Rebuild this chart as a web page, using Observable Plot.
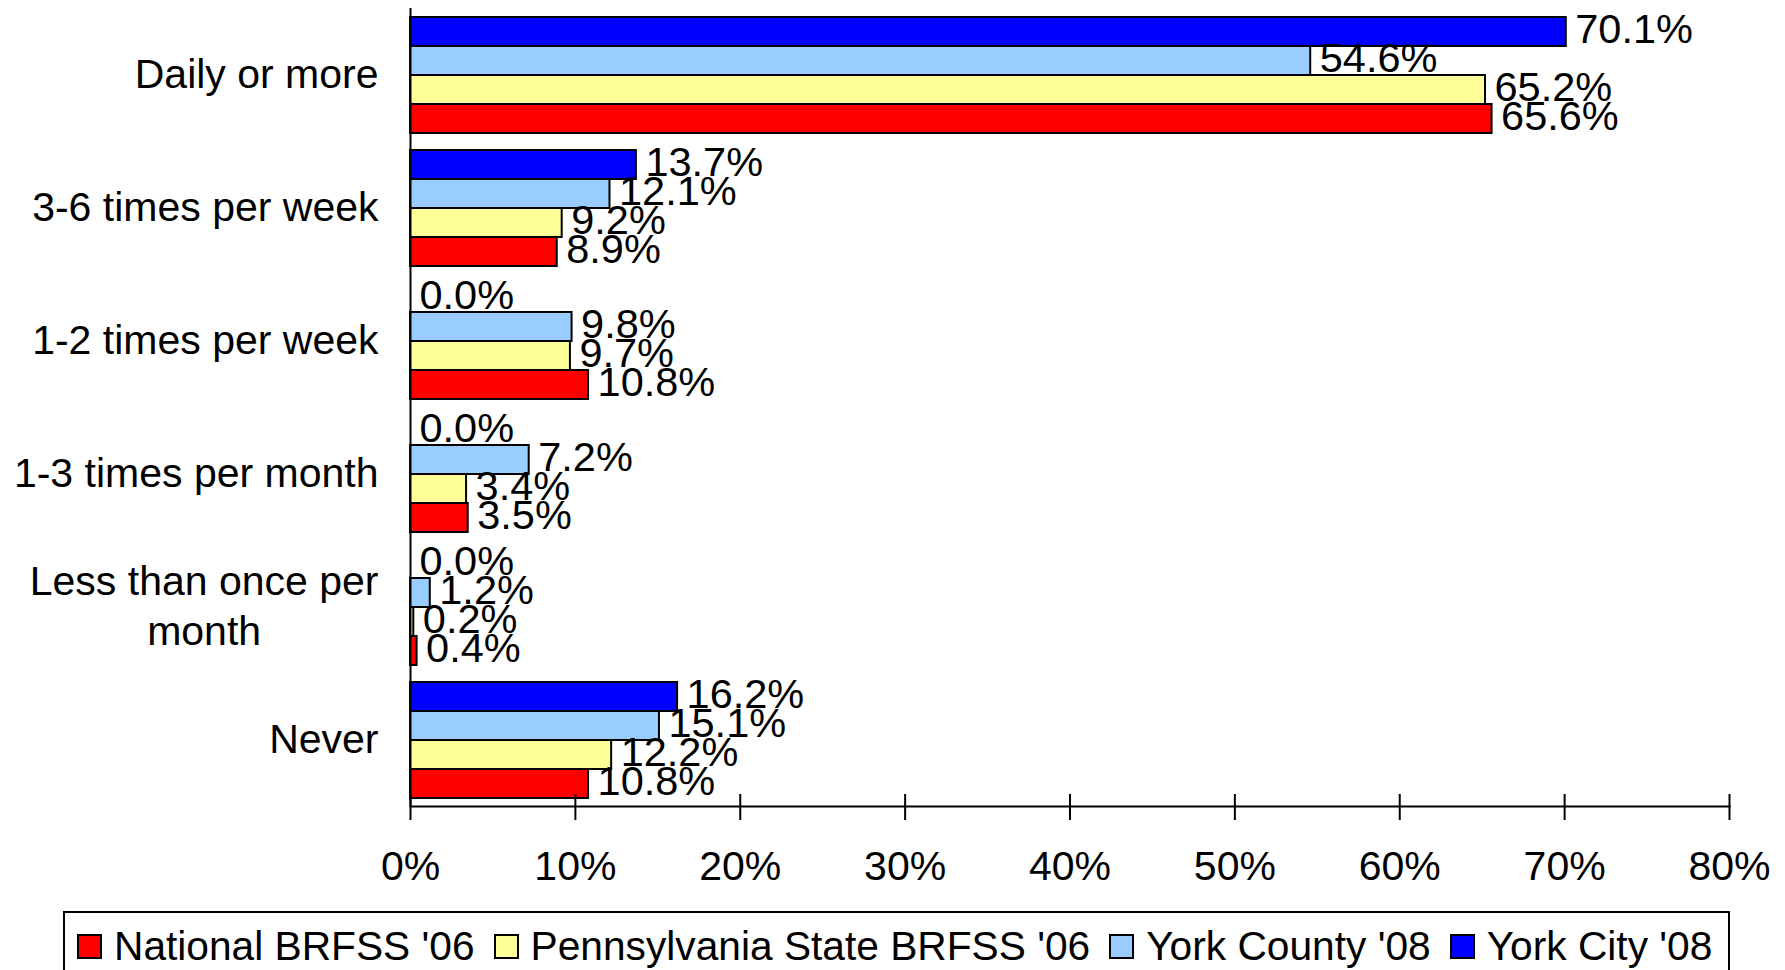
<!DOCTYPE html>
<html><head><meta charset="utf-8">
<script src="https://cdn.jsdelivr.net/npm/d3@7"></script>
<script src="https://cdn.jsdelivr.net/npm/@observablehq/plot@0.6"></script>
<style>
body{margin:0;background:#fff;font-family:"Liberation Sans",Arial,sans-serif;overflow:hidden;}
#chart svg{display:block;}
#legend{box-sizing:border-box;width:1667px;height:70px;margin:6px 0 0 63px;border:2px solid #000;display:flex;align-items:center;padding:0 0 0 12px;font-size:40.7px;color:#000;white-space:nowrap;}
.item{display:flex;align-items:center;margin-right:19px;}
.sw{box-sizing:border-box;width:25px;height:25px;border:2px solid #000;margin-right:12px;}
</style></head><body><div id="chart"></div><div id="legend"></div>
<script>
const categories = ["Daily or more", "3-6 times per week", "1-2 times per week", "1-3 times per month", "Less than once per month", "Never"];
const seriesNames = ["National BRFSS '06", "Pennsylvania State BRFSS '06", "York County '08", "York City '08"];
const seriesColors = ["#FF0000", "#FFFF99", "#99CCFF", "#0000FF"];
const national     = [65.6, 8.9, 10.8, 3.5, 0.4, 10.8];
const pennsylvania = [65.2, 9.2, 9.7, 3.4, 0.2, 12.2];
const yorkCounty   = [54.6, 12.1, 9.8, 7.2, 1.2, 15.1];
const yorkCity     = [70.1, 13.7, 0.0, 0.0, 0.0, 16.2];
const xTicks = [0, 10, 20, 30, 40, 50, 60, 70, 80];

const seriesValues = [national, pennsylvania, yorkCounty, yorkCity];
const data = categories.flatMap((c, i) => seriesNames.map((s, j) => ({category: c, series: s, value: seriesValues[j][i]})));

const font = '"Liberation Sans", Arial, sans-serif';
const chart = Plot.plot({
  width: 1785,
  height: 905,
  marginLeft: 410,
  marginRight: 56,
  marginTop: 8,
  marginBottom: 99,
  style: {fontFamily: font, background: "#fff", color: "#000"},
  x: {domain: [0, 80], ticks: xTicks, label: null},
  y: {domain: seriesNames.slice().reverse(), paddingInner: 0, paddingOuter: 0.235, axis: null},
  fy: {domain: categories, padding: 0, label: null},
  color: {domain: seriesNames, range: seriesColors},
  marks: [
    Plot.barX(data, {x: "value", y: "series", fy: "category", fill: "series", stroke: "#000", strokeWidth: 2}),
    Plot.text(data, {x: "value", y: "series", fy: "category", text: d => d.value.toFixed(1) + "%", textAnchor: "start", dx: 9, dy: -2, fontSize: 41.5, fill: "#000"}),
    Plot.ruleX([0], {stroke: "#000", strokeWidth: 2}),
    Plot.frame({anchor: "bottom", facetAnchor: "bottom", stroke: "#000", strokeWidth: 2}),
    Plot.axisX({ticks: xTicks, tickSize: 26, dy: -12, strokeWidth: 2, tickFormat: () => "", label: null}),
    Plot.axisX({ticks: xTicks, tickSize: 0, tickPadding: 44, fontSize: 41, tickFormat: d => d + "%", label: null}),
    Plot.axisFy({anchor: "left", tickSize: 0, tickPadding: 32, dy: -3, fontSize: 41, lineHeight: 1.22, label: null,
      tickFormat: d => d === "Less than once per month" ? "Less than once per\nmonth" : d})
  ]
});
document.getElementById("chart").append(chart);
chart.querySelectorAll('[aria-label="fy-axis tick label"] text').forEach(t => {
  if (t.querySelectorAll("tspan").length > 1) {
    const w = t.getBBox().width;
    t.setAttribute("text-anchor", "middle");
    t.setAttribute("transform", (t.getAttribute("transform") || "") + ` translate(${-w / 2},0)`);
  }
});

const legend = document.getElementById("legend");
seriesNames.forEach((s, j) => {
  const item = document.createElement("div");
  item.className = "item";
  const sw = document.createElement("div");
  sw.className = "sw";
  sw.style.background = seriesColors[j];
  const label = document.createElement("span");
  label.textContent = s;
  item.append(sw, label);
  legend.append(item);
});
</script>
</body></html>
